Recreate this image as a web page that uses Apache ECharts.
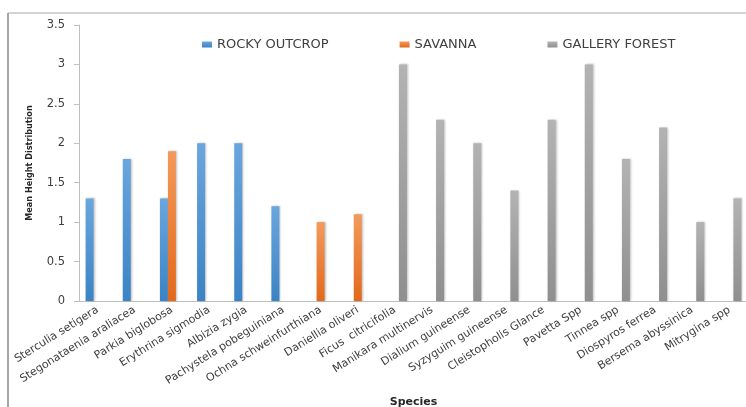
<!DOCTYPE html>
<html style="height: 100%">
<head>
	<meta charset="utf-8">
	<title></title>
	<script type="text/javascript" src="https://cdn.jsdelivr.net/npm/echarts@6/dist/echarts.min.js"></script>
</head>
<body style="height: 100%; margin: 0; background: #fff">
<div id="container" style="width: 746px; height: 407px"></div>
<script type="text/javascript">
	var species = ['Sterculia setigera', 'Stegonataenia araliacea', 'Parkia biglobosa', 'Erythrina sigmodia',
		'Albizia zygia', 'Pachystela pobeguiniana', 'Ochna schweinfurthiana', 'Daniellia oliveri',
		'Ficus  citricifolia', 'Manikara multinervis', 'Dialium guineense', 'Syzyguim guineense',
		'Cleistopholis Glance', 'Pavetta Spp', 'Tinnea spp', 'Diospyros ferrea', 'Bersema abyssinica', 'Mitrygina spp'];
	var rocky = [1.3, 1.8, 1.3, 2.0, 2.0, 1.2, '-', '-', '-', '-', '-', '-', '-', '-', '-', '-', '-', '-'];
	var savanna = ['-', '-', 1.9, '-', '-', '-', 1.0, 1.1, '-', '-', '-', '-', '-', '-', '-', '-', '-', '-'];
	var gallery = ['-', '-', '-', '-', '-', '-', '-', '-', 3.0, 2.3, 2.0, 1.4, 2.3, 3.0, 1.8, 2.2, 1.0, 1.3];
	var yTicks = [0, 0.5, 1, 1.5, 2, 2.5, 3, 3.5];

	function grad(top, bottom){
		return new echarts.graphic.LinearGradient(0, 0, 0, 1, [
			{offset: 0, color: top},
			{offset: 1, color: bottom}
		]);
	}

	var myChart = echarts.init(document.getElementById('container'));

	var barStyle = function(top, bottom){
		return {
			color: grad(top, bottom),
			shadowColor: 'rgba(0,0,0,0.25)',
			shadowBlur: 2,
			shadowOffsetX: 1
		};
	};

	var option = {
		animation: false,
		backgroundColor: '#fff',
		graphic: [
			{type: 'line', shape: {x1: 8, y1: 13, x2: 746, y2: 13}, style: {stroke: '#a6a6a6', lineWidth: 1}},
			{type: 'line', shape: {x1: 8, y1: 13, x2: 8, y2: 407}, style: {stroke: '#a6a6a6', lineWidth: 2}}
		],
		legend: {
			left: 197,
			top: 33,
			itemWidth: 10,
			itemHeight: 6,
			itemGap: 71,
			icon: 'rect',
			textStyle: {fontFamily: 'DejaVu Sans', fontSize: 13, color: '#404040'},
			data: ['ROCKY OUTCROP', 'SAVANNA', 'GALLERY FOREST']
		},
		grid: {left: 79, right: -2, top: 25, bottom: 106, outerBoundsMode: 'none', containLabel: false},
		xAxis: {
			type: 'category',
			data: species,
			name: 'Species',
			nameLocation: 'middle',
			nameGap: 96,
			nameTextStyle: {fontFamily: 'DejaVu Sans', fontWeight: 'bold', fontSize: 11, color: '#262626'},
			axisLine: {lineStyle: {color: '#bfbfbf'}},
			axisTick: {show: false},
			axisLabel: {
				interval: 0,
				rotate: 32,
				fontFamily: 'DejaVu Sans',
				fontSize: 11,
				color: '#404040',
				margin: 8
			}
		},
		yAxis: {
			type: 'value',
			min: 0,
			max: 3.5,
			interval: 0.5,
			name: 'Mean Height Distribution',
			nameLocation: 'middle',
			nameGap: 45,
			nameTextStyle: {fontFamily: 'DejaVu Sans Condensed', fontWeight: 'bold', fontSize: 9, color: '#262626'},
			splitLine: {show: false},
			axisLine: {show: true, lineStyle: {color: '#bfbfbf'}},
			axisTick: {show: true, length: 5, lineStyle: {color: '#bfbfbf'}},
			axisLabel: {
				fontFamily: 'DejaVu Sans',
				fontSize: 11.5,
				color: '#404040',
				margin: 14,
				formatter: function(v){ return yTicks.indexOf(v) >= 0 ? String(v) : ''; }
			}
		},
		series: [
			{name: 'ROCKY OUTCROP', type: 'bar', data: rocky, barWidth: 8, barGap: '0%',
				itemStyle: barStyle('#6aa6de', '#3b83c5')},
			{name: 'SAVANNA', type: 'bar', data: savanna, barWidth: 8, barGap: '0%',
				itemStyle: barStyle('#f39a5c', '#e2691b')},
			{name: 'GALLERY FOREST', type: 'bar', data: gallery, barWidth: 8, barGap: '0%',
				itemStyle: barStyle('#b3b3b3', '#8f8f8f')}
		]
	};
	myChart.setOption(option);
</script>
</body>
</html>
